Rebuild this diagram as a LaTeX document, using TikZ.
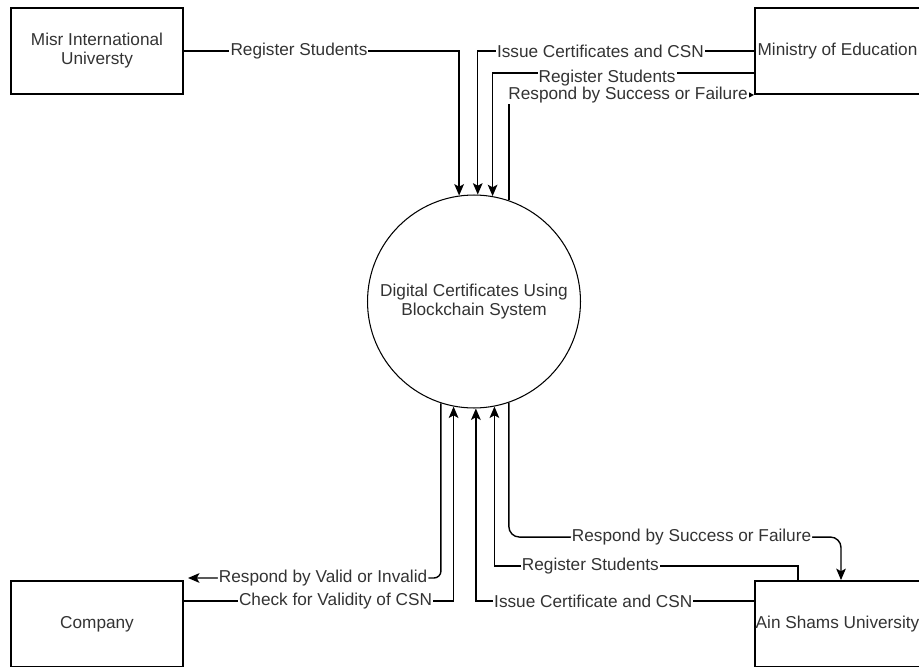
\documentclass[tikz,border=0pt]{standalone}
\usepackage{fontspec}
\setmainfont{Liberation Sans}
\usetikzlibrary{arrows.meta}

\begin{document}
\begin{tikzpicture}[x = 0.02cm, y = -0.02cm,
    every node/.style = { font = \fontsize{9.8}{10.8}\selectfont, text = black!80, align = center },
    entity/.style = { draw = black, line width = 1.1pt, minimum width = 3.44cm, minimum height = 1.72cm, inner sep = 0pt },
    process/.style = { draw = black, line width = 0.6pt, shape = circle, minimum size = 4.26cm, inner sep = 0pt },
    flow/.style = { line width = 0.8pt, -{Stealth[length = 6.5pt, width = 5.5pt, inset = 1.5pt]} },
    lbl/.style = { fill = white, inner sep = 0.6pt }]
      \useasboundingbox (0,0) rectangle (919,666);
      \clip (0,0) rectangle (919,666);

      \node [entity] (miu) at (97,51) {Misr International\\Universty};
      \node [entity] (moe) at (841,51) {\hspace*{-0.14cm}Ministry of Education};
      \node [entity] (comp) at (97,624) {Company};
      \node [entity] (asu) at (841,624) {\hspace*{-0.14cm}Ain Shams University};
      \node [process] (dcs) at (474,301.5) {Digital Certificates Using\\Blockchain System};
      \coordinate (cmpin) at (188,578);

      \draw [flow] (miu.east) -| node [lbl, pos = 0.209] {Register Students} (dcs.98.6);
      \draw [flow] (moe.west) -| node [lbl, pos = 0.278] {Issue Certificates and CSN} (dcs.88.9);
      \draw [flow] (moe.west |- 0,73) -| node [lbl, pos = 0.281, yshift = -2.6pt] {Register Students} (dcs.80.3);
      \draw [line width = 0.8pt, -{Triangle[length = 4.5pt, width = 4.5pt]}]
        (dcs.71.4) |- node [lbl, pos = 0.743] {Respond by Success or Failure} (moe.south west);

      \draw [flow] (comp.east |- 0,601) -| node [lbl, pos = 0.281] {Check for Validity of CSN} (dcs.259.7);
      \draw [flow, rounded corners = 4pt] (dcs.252) |- node [lbl, pos = 0.733] {Respond by Valid or Invalid} (cmpin);
      \draw [flow] (asu.west |- 0,601) -| node [lbl, pos = 0.289] {Issue Certificate and CSN} (dcs.271.1);
      \draw [flow] (asu.north west -| 798,0) -- ++(0,-14) -| node [lbl, pos = 0.342] {Register Students} (dcs.281.4);
      \draw [flow, rounded corners = 6pt]
        (dcs.289.8) |- node [lbl, pos = 0.775] {Respond by Success or Failure} ([yshift = 0.86cm]asu.north) -- (asu.north);
    \end{tikzpicture}
\end{document}
